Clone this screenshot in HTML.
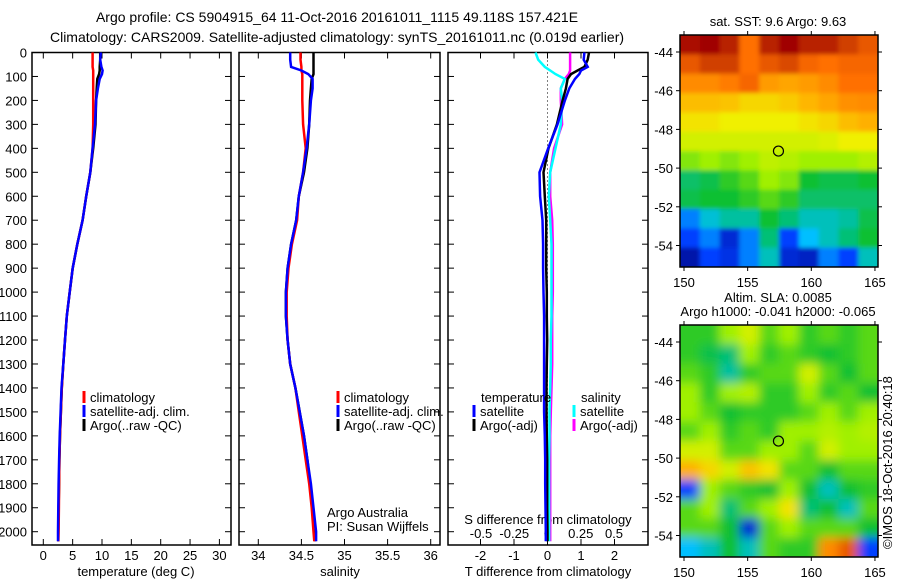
<!DOCTYPE html>
<html><head><meta charset="utf-8"><style>
html,body{margin:0;padding:0;background:#fff}
svg{display:block;font-family:"Liberation Sans",sans-serif}
text{font-size:13px;fill:#000}
</style></head><body>
<svg id="chart" width="900" height="580" viewBox="0 0 900 580">
<text x="337" y="22" text-anchor="middle" style="font-size:14px">Argo profile: CS 5904915_64 11-Oct-2016 20161011_1115 49.118S 157.421E</text>
<text x="337" y="42" text-anchor="middle" style="font-size:14px">Climatology: CARS2009. Satellite-adjusted climatology: synTS_20161011.nc (0.019d earlier)</text>
<g id="g"></g>
</svg>
<script>
// ---- profile data ----
const depths = [0,30,60,75,90,110,150,200,300,400,500,600,700,800,900,1000,1100,1200,1300,1400,1500,1600,1700,1800,1900,2000,2040];
const tempClim = [8.4,8.4,8.4,8.5,8.5,8.5,8.5,8.5,8.5,8.4,8.0,7.3,6.7,5.8,5.0,4.5,4.0,3.7,3.4,3.15,3.0,2.85,2.75,2.7,2.65,2.6,2.55];
const tempSat = [9.8,9.7,9.9,10.1,10.0,9.6,9.3,9.0,8.8,8.4,8.0,7.3,6.7,5.8,5.0,4.5,4.0,3.7,3.4,3.1,2.95,2.8,2.7,2.6,2.55,2.5,2.5];
const tempArgo = [9.7,9.7,9.6,9.6,9.5,9.2,9.1,9.0,8.9,8.5,8.0,7.3,6.7,5.8,5.0,4.5,4.0,3.7,3.4,3.15,3.0,2.85,2.75,2.7,2.6,2.55,2.55];
const salClim = [34.49,34.49,34.5,34.5,34.51,34.51,34.51,34.51,34.52,34.55,34.52,34.47,34.45,34.39,34.35,34.33,34.33,34.34,34.37,34.43,34.47,34.51,34.55,34.59,34.62,34.64,34.65];
const salSat = [34.37,34.37,34.38,34.5,34.58,34.63,34.63,34.61,34.59,34.56,34.52,34.47,34.44,34.38,34.34,34.32,34.32,34.34,34.37,34.43,34.48,34.53,34.57,34.61,34.64,34.67,34.67];
const salArgo = [34.64,34.64,34.64,34.64,34.64,34.62,34.61,34.6,34.59,34.57,34.53,34.47,34.44,34.38,34.34,34.32,34.32,34.34,34.37,34.43,34.48,34.53,34.57,34.6,34.63,34.66,34.66];
const dTSat = [1.1,1.08,1.2,1.0,0.95,0.82,0.65,0.52,0.3,0.02,-0.24,-0.22,-0.15,-0.13,-0.13,-0.12,-0.1,-0.1,-0.1,-0.1,-0.1,-0.08,-0.07,-0.07,-0.06,-0.05,-0.05];
const dTArgo = [1.24,1.2,1.1,0.9,0.7,0.6,0.55,0.45,0.28,0.03,-0.12,-0.08,-0.04,-0.04,-0.04,-0.02,-0.02,-0.01,-0.02,-0.03,-0.03,-0.02,-0.01,-0.01,-0.01,0.0,0.0];
const dSSat = [-0.09,-0.07,-0.02,0.02,0.06,0.13,0.1,0.11,0.1,0.06,0.02,0.01,0.02,0.03,0.03,0.03,0.03,0.025,0.025,0.02,0.015,0.015,0.012,0.012,0.012,0.012,0.012];
const dSArgo = [0.17,0.17,0.17,0.17,0.16,0.13,0.1,0.1,0.11,0.05,0.02,0.02,0.035,0.04,0.04,0.04,0.035,0.035,0.035,0.03,0.025,0.02,0.02,0.02,0.02,0.02,0.02];
const depthTicks = [0,100,200,300,400,500,600,700,800,900,1000,1100,1200,1300,1400,1500,1600,1700,1800,1900,2000];
const tempTicks = [0,5,10,15,20,25,30];
const salTicks = [34,34.5,35,35.5,36];
const salTickLabels = ["34","34.5","35","35.5","36"];
const dTTicks = [-2,-1,0,1,2];
const dSTicks = [-0.5,-0.25,0,0.25,0.5];
const dSTickLabels = ["-0.5","-0.25","0","0.25","0.5"];
const latTicks = [-44,-46,-48,-50,-52,-54];
const lonTicks = [150,155,160,165];
const argoLon = 157.42, argoLat = -49.12;
const sstGrid = [
[0.98,1,0.95,0.8,0.95,1,0.95,0.95,0.9,0.85],
[0.85,0.9,0.9,0.8,0.85,0.88,0.82,0.8,0.82,0.82],
[0.75,0.75,0.78,0.82,0.72,0.7,0.72,0.75,0.8,0.8],
[0.66,0.66,0.65,0.62,0.62,0.64,0.67,0.7,0.74,0.75],
[0.6,0.6,0.58,0.58,0.58,0.58,0.6,0.62,0.66,0.68],
[0.55,0.55,0.55,0.55,0.55,0.55,0.55,0.56,0.58,0.58],
[0.48,0.5,0.48,0.5,0.53,0.52,0.5,0.5,0.5,0.52],
[0.36,0.38,0.42,0.45,0.5,0.48,0.4,0.38,0.38,0.4],
[0.38,0.4,0.4,0.42,0.45,0.42,0.36,0.36,0.36,0.36],
[0.2,0.28,0.32,0.32,0.4,0.35,0.3,0.3,0.32,0.38],
[0.15,0.2,0.1,0.2,0.35,0.15,0.25,0.3,0.35,0.4],
[0.05,0.15,0.12,0.2,0.3,0.1,0.08,0.2,0.15,0.3]];
const slaGrid = [
[.42,.42,.5,.55,.45,.5,.42,.45,.42,.45],
[.42,.38,.35,.5,.42,.45,.42,.4,.42,.45],
[.45,.42,.32,.42,.45,.45,.55,.45,.4,.45],
[.5,.42,.5,.52,.42,.42,.5,.42,.45,.4],
[.5,.45,.4,.42,.42,.42,.45,.5,.45,.5],
[.45,.5,.42,.45,.42,.5,.5,.52,.5,.52],
[.55,.55,.45,.45,.5,.5,.45,.55,.5,.5],
[.68,.62,.55,.65,.6,.45,.45,.4,.45,.45],
[.15,.5,.45,.42,.4,.5,.4,.3,.4,.42],
[.45,.5,.35,.45,.5,.6,.35,.4,.3,.45],
[.45,.45,.4,.1,.45,.5,.45,.45,.45,.4],
[.25,.3,.4,.3,.45,.42,.42,.75,.85,.15]];

const NS='http://www.w3.org/2000/svg';
const G=document.getElementById('g');
function el(tag,attrs,parent,txt){const e=document.createElementNS(NS,tag);for(const k in attrs)e.setAttribute(k,attrs[k]);if(txt!==undefined)e.textContent=txt;(parent||G).appendChild(e);return e;}

const top0=52.5, pxPerM=0.2396, bottomY=545;
const yD=d=>top0+d*pxPerM;
const panels=[
 {x0:32,x1:231,fx:v=>43.3+v*5.87,name:'temperature'},
 {x0:239,x1:440,fx:v=>258.3+(v-34)*86.2,name:'salinity'},
 {x0:448,x1:648,fx:v=>547.5+v*33.5,name:'difference'}];
const fS=v=>547.5+v*133;

panels.forEach((P,pi)=>{
  const cp=el('clipPath',{id:'cp'+pi});
  el('rect',{x:P.x0,y:top0-1,width:P.x1-P.x0,height:bottomY-top0+1},cp);
  const f=el('rect',{x:P.x0,y:top0,width:P.x1-P.x0,height:bottomY-top0,fill:'none',stroke:'#000','stroke-width':1.5});
  
  
  depthTicks.forEach(d=>{
    el('line',{x1:P.x0,x2:P.x0+6,y1:yD(d),y2:yD(d),stroke:'#000'});
    el('line',{x1:P.x1,x2:P.x1-6,y1:yD(d),y2:yD(d),stroke:'#000'});
  });
});
depthTicks.forEach(d=>{
  const t=el('text',{x:27,y:yD(d)+5,'text-anchor':'end'},G,String(d));
  
  
});
function xticks(P,ticks,labels,fx,yl){
  ticks.forEach((v,i)=>{
    const x=fx(v);
    el('line',{x1:x,x2:x,y1:bottomY,y2:bottomY-6,stroke:'#000'});
    el('line',{x1:x,x2:x,y1:top0,y2:top0+6,stroke:'#000'});
    const t=el('text',{x:x,y:yl,'text-anchor':'middle'},G,labels[i]);
    
    
  });
}
xticks(panels[0],tempTicks,tempTicks.map(String),panels[0].fx,560);
xticks(panels[1],salTicks,salTickLabels,panels[1].fx,560);
xticks(panels[2],dTTicks,dTTicks.map(String),panels[2].fx,560);
dSTicks.forEach((v,i)=>{
  const t=el('text',{x:fS(v),y:538,'text-anchor':'middle'},G,dSTickLabels[i]);
  
  
});
[['temperature (deg C)',136,'temperature-axis-title'],['salinity',340,'salinity-axis-title'],['T difference from climatology',548,'t-difference-axis-title']].forEach(a=>{
  const t=el('text',{x:a[1],y:576,'text-anchor':'middle'},G,a[0]);
  
  
});
const sdt=el('text',{x:548,y:524,'text-anchor':'middle'},G,'S difference from climatology');


el('line',{x1:547.5,x2:547.5,y1:top0,y2:bottomY,stroke:'#000','stroke-dasharray':'1,3'});

const g0=el('g',{'clip-path':'url(#cp0)'});
const g1=el('g',{'clip-path':'url(#cp1)'});
const g2=el('g',{'clip-path':'url(#cp2)'});
function lineIn(g,xs,fx,color,name){
  const pts=depths.map((d,i)=>fx(xs[i]).toFixed(1)+','+yD(d).toFixed(1)).join(' ');
  const p=el('polyline',{points:pts,fill:'none',stroke:color,'stroke-width':2.5},g);
  
  
}
lineIn(g0,tempArgo,panels[0].fx,'#000','temp-argo-line');
lineIn(g0,tempClim,panels[0].fx,'#f00','temp-climatology-line');
lineIn(g0,tempSat,panels[0].fx,'#00f','temp-satellite-line');
lineIn(g1,salArgo,panels[1].fx,'#000','salinity-argo-line');
lineIn(g1,salClim,panels[1].fx,'#f00','salinity-climatology-line');
lineIn(g1,salSat,panels[1].fx,'#00f','salinity-satellite-line');
lineIn(g2,dSArgo,fS,'#f0f','s-diff-argo-line');
lineIn(g2,dSSat,fS,'#0ff','s-diff-satellite-line');
lineIn(g2,dTArgo,panels[2].fx,'#000','t-diff-argo-line');
lineIn(g2,dTSat,panels[2].fx,'#00f','t-diff-satellite-line');

function legend(x,y,color,label,name){
  el('rect',{x:x-1.5,y:y-11,width:3,height:12,fill:color});
  const t=el('text',{x:x+6,y:y},G,label);
  
  
}
[[84,'climatology-legend'],[338,'salinity-legend']].forEach(L=>{
  legend(L[0],402,'#f00','climatology',L[1]+'-climatology');
  legend(L[0],416,'#00f','satellite-adj. clim.',L[1]+'-satellite');
  legend(L[0],430,'#000','Argo(..raw -QC)',L[1]+'-argo');
});
let tt=el('text',{x:481,y:402},G,'temperature');
tt=el('text',{x:581,y:402},G,'salinity');
legend(474,416,'#00f','satellite','diff-legend-t-satellite');
legend(474,430,'#000','Argo(-adj)','diff-legend-t-argo');
legend(574,416,'#0ff','satellite','diff-legend-s-satellite');
legend(574,430,'#f0f','Argo(-adj)','diff-legend-s-argo');
tt=el('text',{x:327,y:517},G,'Argo Australia');
tt=el('text',{x:327,y:531},G,'PI: Susan Wijffels');

// ---- maps ----
const stops=[[0,[0,0,127]],[0.15,[0,64,255]],[0.25,[0,191,255]],[0.32,[0,192,160]],[0.4,[16,192,48]],[0.5,[160,240,0]],[0.58,[240,240,0]],[0.68,[255,176,0]],[0.8,[255,112,0]],[0.9,[208,64,0]],[1,[160,0,0]]];
function cmap(v){for(let i=1;i<stops.length;i++){if(v<=stops[i][0]){const a=stops[i-1],b=stops[i],t=(v-a[0])/(b[0]-a[0]);return 'rgb('+a[1].map((c,k)=>Math.round(c+(b[1][k]-c)*t)).join(',')+')';}}return 'rgb(160,0,0)';}
function drawMap(grid,y0,name,titleLines,blur){
  const x0=680,x1=878,y1=y0+232;
  const fx=lon=>684+(lon-150)*12.73;
  const fy=lat=>y0+17+(-44-lat)*19.35;
  const rows=grid.length,cols=grid[0].length,cw=(x1-x0)/cols,ch=(y1-y0)/rows;
  const mg=el('g',{});
  
  
  const fl=el('filter',{id:'bl'+y0,x:0,y:0,width:1,height:1});
  el('feGaussianBlur',{stdDeviation:blur},fl);
  const cp=el('clipPath',{id:'mc'+y0});el('rect',{x:x0,y:y0,width:x1-x0,height:y1-y0},cp);
  const cells=el('g',{filter:'url(#bl'+y0+')'},el('g',{'clip-path':'url(#mc'+y0+')'},mg));
  grid.forEach((r,i)=>r.forEach((v,j)=>{
    const c=el('rect',{x:x0+j*cw-(j==0?10:0),y:y0+i*ch-(i==0?10:0),width:cw+1+(j==0||j==cols-1?10:0),height:ch+1+(i==0||i==rows-1?10:0),fill:cmap(v)},cells);
    
    
  }));
  el('rect',{x:x0,y:y0,width:x1-x0,height:y1-y0,fill:'none',stroke:'#000','stroke-width':1.5},mg);
  latTicks.forEach(l=>{const y=fy(l);el('line',{x1:x0-4,x2:x0,y1:y,y2:y,stroke:'#000'},mg);el('line',{x1:x1,x2:x1+4,y1:y,y2:y,stroke:'#000'},mg);
    const t=el('text',{x:x0-7,y:y+5,'text-anchor':'end'},mg,String(l));});
  lonTicks.forEach(l=>{const x=fx(l);el('line',{x1:x,x2:x,y1:y0-4,y2:y0,stroke:'#000'},mg);el('line',{x1:x,x2:x,y1:y1,y2:y1+4,stroke:'#000'},mg);
    const t=el('text',{x:x,y:y1+20,'text-anchor':'middle'},mg,String(l));});
  const c=el('circle',{cx:fx(argoLon),cy:fy(argoLat),r:5,fill:'none',stroke:'#000','stroke-width':1.2},mg);
  
  
  titleLines.forEach((s,i)=>{const t=el('text',{x:778,y:y0-(titleLines.length-1-i)*14-9,'text-anchor':'middle'},mg,s);});
}
drawMap(sstGrid,35,'sst-map',['sat. SST: 9.6 Argo: 9.63'],2);
drawMap(slaGrid,325,'sla-map',['Altim. SLA: 0.0085','Argo h1000: -0.041 h2000: -0.065'],5);
tt=el('text',{x:0,y:0,transform:'translate(892,549) rotate(-90)'},G,'©IMOS 18-Oct-2016 20:40:18');


</script>
</body></html>
